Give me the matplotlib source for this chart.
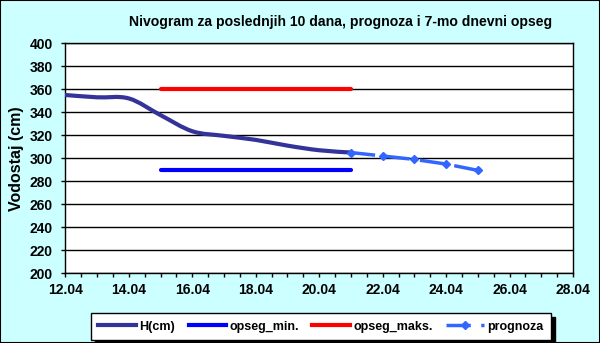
import numpy as np
import matplotlib
matplotlib.use('Agg')
import matplotlib.pyplot as plt
from matplotlib.path import Path
from matplotlib.patches import PathPatch
from matplotlib.lines import Line2D

plt.rcParams['font.family'] = ['Liberation Sans', 'DejaVu Sans']
plt.rcParams['font.weight'] = 'bold'

# days of April
h_days = [12, 13, 14, 15, 16, 17, 18, 19, 20, 21]
h_vals = [355, 353, 352, 337.5, 323.5, 319.5, 316, 311, 307, 305]
min_days = [15, 21]
min_vals = [290, 290]
max_days = [15, 21]
max_vals = [360, 360]
prog_days = [21, 22, 23, 24, 25]
prog_vals = [305, 302, 299, 295, 289.5]

x_ticks = [12, 14, 16, 18, 20, 22, 24, 26, 28]
x_labels = ['%02d.04' % d for d in x_ticks]
y_ticks = list(range(200, 401, 20))

c_h = '#333399'
c_min = '#0000FF'
c_max = '#FF0000'
c_prog = '#3366FF'


def smooth_path(xs, ys):
    # catmull-rom -> cubic bezier, like excel smoothed line
    xs = np.asarray(xs, float)
    ys = np.asarray(ys, float)
    pts = np.column_stack([xs, ys])
    verts = [pts[0]]
    codes = [Path.MOVETO]
    n = len(pts)
    for i in range(n - 1):
        p0 = pts[i - 1] if i > 0 else pts[i]
        p1 = pts[i]
        p2 = pts[i + 1]
        p3 = pts[i + 2] if i + 2 < n else pts[i + 1]
        c1 = p1 + (p2 - p0) / 6.0
        c2 = p2 - (p3 - p1) / 6.0
        verts += [c1, c2, p2]
        codes += [Path.CURVE4] * 3
    return Path(verts, codes)


fig = plt.figure(figsize=(6.0, 3.43), dpi=100, facecolor='#CCFFFF')
fig.patches.append(plt.Rectangle((0, 0), 1, 1, transform=fig.transFigure,
                                 fill=False, edgecolor='black', lw=1.5))
ax = fig.add_axes([0.109, 0.203, 0.846, 0.671])
ax.set_facecolor('white')

ax.add_patch(PathPatch(smooth_path(h_days, h_vals), fill=False,
                       edgecolor=c_h, lw=3, capstyle='round', zorder=3))
ax.plot(min_days, min_vals, color=c_min, lw=3, solid_capstyle='round', zorder=3)
ax.plot(max_days, max_vals, color=c_max, lw=3, solid_capstyle='round', zorder=3)
ax.plot(prog_days, prog_vals, color=c_prog, lw=2.5, dashes=(7, 3),
        marker='D', markersize=4, zorder=4)

ax.set_xlim(12, 28)
ax.set_ylim(200, 400)
ax.set_xticks(x_ticks)
ax.set_xticklabels(x_labels)
ax.set_xticks(np.arange(12, 28.01, 0.5), minor=True)
ax.set_yticks(y_ticks)
ax.tick_params(axis='both', labelsize=10, direction='out', length=3, width=1,
               color='black')
ax.tick_params(axis='x', pad=4)
ax.tick_params(axis='y', pad=6)
ax.tick_params(axis='x', which='minor', direction='out', length=3, width=1)
ax.grid(axis='y', color='black', lw=1)
ax.set_axisbelow(True)
for s in ax.spines.values():
    s.set_color('black')
    s.set_linewidth(1)
ax.set_ylabel('Vodostaj (cm)', fontsize=11.5, fontweight='bold', labelpad=4)

fig.text(0.568, 0.936, 'Nivogram za poslednjih 10 dana, prognoza i 7-mo dnevni opseg',
         ha='center', va='center', fontsize=10.1, fontweight='bold')

handles = [Line2D([], [], color=c_h, lw=3),
           Line2D([], [], color=c_min, lw=3),
           Line2D([], [], color=c_max, lw=3),
           Line2D([], [], color=c_prog, lw=2.5, dashes=(7, 3), marker='D', markersize=4)]
labels = ['H(cm)', 'opseg_min.', 'opseg_maks.', 'prognoza']
leg = fig.legend(handles, labels, loc='center', bbox_to_anchor=(0.535, 0.048),
                 ncol=4, fontsize=9, frameon=True, fancybox=False,
                 edgecolor='black', handlelength=3, columnspacing=1.05,
                 handletextpad=0.3, borderpad=0.6,
                 shadow={'color': 'black', 'alpha': 1, 'ox': 3, 'oy': -3})
leg.get_frame().set_linewidth(1)

fig.savefig('out.png', dpi=100, facecolor=fig.get_facecolor())
